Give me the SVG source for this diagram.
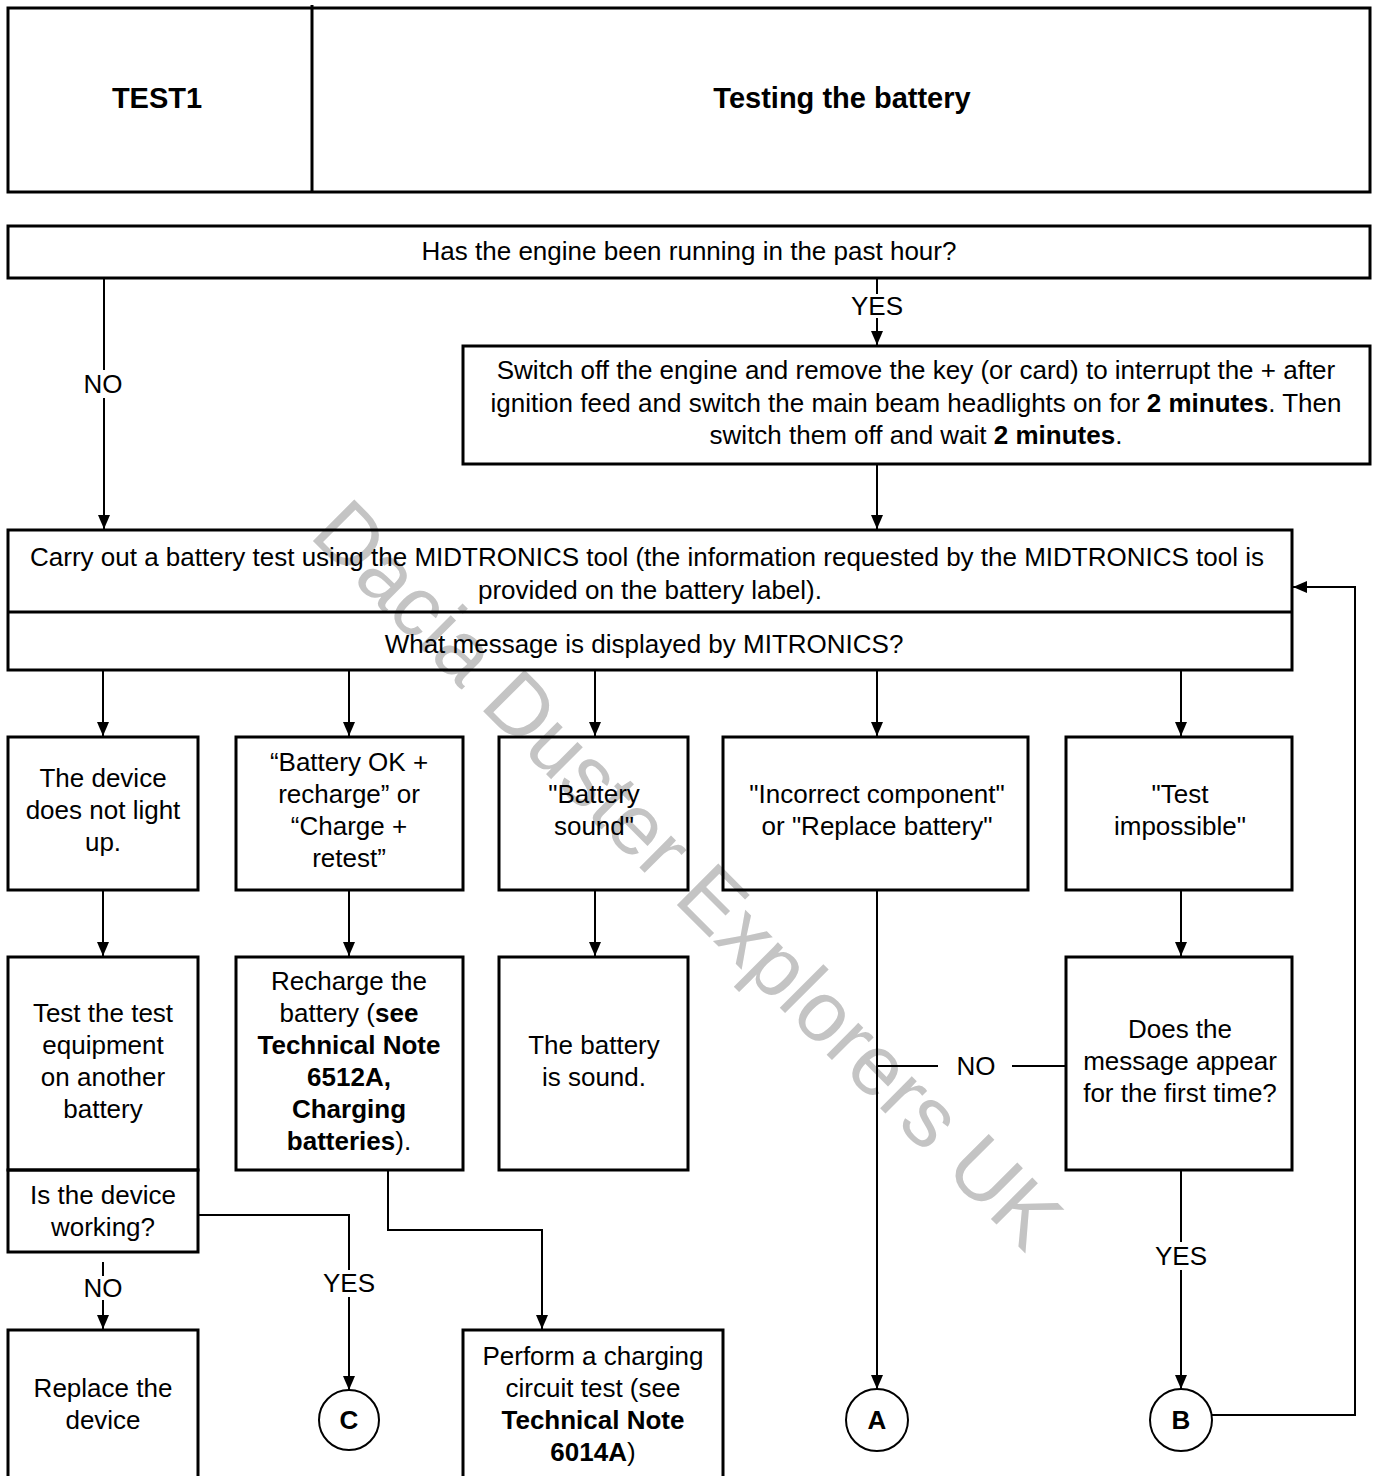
<svg xmlns="http://www.w3.org/2000/svg" width="1375" height="1476" viewBox="0 0 1375 1476">
<defs>
<marker id="ah" markerUnits="userSpaceOnUse" markerWidth="14" markerHeight="14" refX="14" refY="6" orient="auto">
<path d="M0,0 L14,6 L0,12 z" fill="#000"/>
</marker>
<style>
.box{fill:none;stroke:#000;stroke-width:3}
.ln{fill:none;stroke:#000;stroke-width:2}
.arr{fill:none;stroke:#000;stroke-width:2;marker-end:url(#ah)}
text{font-family:"Liberation Sans",Arial,sans-serif;font-size:26px;fill:#000;text-anchor:middle}
.b{font-weight:bold}
.h{font-weight:bold;font-size:29px}
.wm{font-size:85px;fill:#c4c4c4;text-anchor:start}
</style>
</defs>
<rect width="1375" height="1476" fill="#fff"/>
<text class="wm" transform="translate(308,536) rotate(45)">Dacia Duster Explorers UK</text>

<g id="header">
<rect class="box" x="8" y="8" width="1362" height="184"/>
<line class="box" x1="312" y1="5" x2="312" y2="192"/>
<text class="h" x="157" y="108">TEST1</text>
<text class="h" x="842" y="108">Testing the battery</text>
</g>

<g id="q1">
<rect class="box" x="8" y="226" width="1362" height="52"/>
<text x="689" y="260">Has the engine been running in the past hour?</text>
</g>

<g id="switchoff">
<rect class="box" x="463" y="346" width="907" height="118"/>
<text x="916" y="379">Switch off the engine and remove the key (or card) to interrupt the + after</text>
<text x="916" y="412">ignition feed and switch the main beam headlights on for <tspan class="b">2 minutes</tspan>. Then</text>
<text x="916" y="444">switch them off and wait <tspan class="b">2 minutes</tspan>.</text>
</g>

<g id="midtronics">
<rect class="box" x="8" y="530" width="1284" height="140"/>
<line class="box" x1="8" y1="612" x2="1292" y2="612"/>
<text x="647" y="566">Carry out a battery test using the MIDTRONICS tool (the information requested by the MIDTRONICS tool is</text>
<text x="650" y="599">provided on the battery label).</text>
<text x="644" y="653">What message is displayed by MITRONICS?</text>
</g>

<g id="nolight">
<rect class="box" x="8" y="737" width="190" height="153"/>
<text x="103" y="787">The device</text>
<text x="103" y="819">does not light</text>
<text x="103" y="851">up.</text>
</g>

<g id="batteryok">
<rect class="box" x="236" y="737" width="227" height="153"/>
<text x="349" y="771">“Battery OK +</text>
<text x="349" y="803">recharge” or</text>
<text x="349" y="835">“Charge +</text>
<text x="349" y="867">retest”</text>
</g>

<g id="batterysound">
<rect class="box" x="499" y="737" width="189" height="153"/>
<text x="594" y="803">"Battery</text>
<text x="594" y="835">sound"</text>
</g>

<g id="incorrect">
<rect class="box" x="723" y="737" width="305" height="153"/>
<text x="877" y="803">"Incorrect component"</text>
<text x="877" y="835">or "Replace battery"</text>
</g>

<g id="impossible">
<rect class="box" x="1066" y="737" width="226" height="153"/>
<text x="1180" y="803">"Test</text>
<text x="1180" y="835">impossible"</text>
</g>

<g id="testequip">
<rect class="box" x="8" y="957" width="190" height="213"/>
<text x="103" y="1022">Test the test</text>
<text x="103" y="1054">equipment</text>
<text x="103" y="1086">on another</text>
<text x="103" y="1118">battery</text>
</g>

<g id="working">
<rect class="box" x="8" y="1170" width="190" height="82"/>
<text x="103" y="1204">Is the device</text>
<text x="103" y="1236">working?</text>
</g>

<g id="recharge">
<rect class="box" x="236" y="957" width="227" height="213"/>
<text x="349" y="990">Recharge the</text>
<text x="349" y="1022">battery (<tspan class="b">see</tspan></text>
<text x="349" y="1054" class="b">Technical Note</text>
<text x="349" y="1086" class="b">6512A,</text>
<text x="349" y="1118" class="b">Charging</text>
<text x="349" y="1150"><tspan class="b">batteries</tspan>).</text>
</g>

<g id="sound">
<rect class="box" x="499" y="957" width="189" height="213"/>
<text x="594" y="1054">The battery</text>
<text x="594" y="1086">is sound.</text>
</g>

<g id="firsttime">
<rect class="box" x="1066" y="957" width="226" height="213"/>
<text x="1180" y="1038">Does the</text>
<text x="1180" y="1070">message appear</text>
<text x="1180" y="1102">for the first time?</text>
</g>

<g id="replace">
<path class="box" d="M8,1480 V1330 H198 V1480"/>
<text x="103" y="1397">Replace the</text>
<text x="103" y="1429">device</text>
</g>

<g id="charging">
<path class="box" d="M463,1480 V1330 H723 V1480"/>
<text x="593" y="1365">Perform a charging</text>
<text x="593" y="1397">circuit test (see</text>
<text x="593" y="1429" class="b">Technical Note</text>
<text x="593" y="1461"><tspan class="b">6014A</tspan>)</text>
</g>

<g id="circC">
<circle class="ln" cx="349" cy="1420" r="30"/>
<text class="b" x="349" y="1429">C</text>
</g>
<g id="circA">
<circle class="ln" cx="877" cy="1420" r="31"/>
<text class="b" x="877" y="1429">A</text>
</g>
<g id="circB">
<circle class="ln" cx="1181" cy="1420" r="31"/>
<text class="b" x="1181" y="1429">B</text>
</g>

<g id="connectors">
<line class="ln" x1="104" y1="278" x2="104" y2="370"/>
<line class="arr" x1="104" y1="398" x2="104" y2="529"/>
<text x="103" y="393">NO</text>

<line class="ln" x1="877" y1="278" x2="877" y2="294"/>
<text x="877" y="315">YES</text>
<line class="arr" x1="877" y1="318" x2="877" y2="345"/>

<line class="arr" x1="877" y1="464" x2="877" y2="529"/>

<line class="arr" x1="103" y1="670" x2="103" y2="736"/>
<line class="arr" x1="349" y1="670" x2="349" y2="736"/>
<line class="arr" x1="595" y1="670" x2="595" y2="736"/>
<line class="arr" x1="877" y1="670" x2="877" y2="736"/>
<line class="arr" x1="1181" y1="670" x2="1181" y2="736"/>

<line class="arr" x1="103" y1="890" x2="103" y2="956"/>
<line class="arr" x1="349" y1="890" x2="349" y2="956"/>
<line class="arr" x1="595" y1="890" x2="595" y2="956"/>
<line class="arr" x1="1181" y1="890" x2="1181" y2="956"/>

<line class="arr" x1="877" y1="890" x2="877" y2="1389"/>

<line class="ln" x1="1066" y1="1066" x2="1012" y2="1066"/>
<text x="976" y="1075">NO</text>
<line class="ln" x1="938" y1="1066" x2="877" y2="1066"/>

<line class="ln" x1="1181" y1="1170" x2="1181" y2="1242"/>
<text x="1181" y="1265">YES</text>
<line class="arr" x1="1181" y1="1270" x2="1181" y2="1389"/>

<path class="arr" d="M1212,1415 H1355 V587 H1293"/>

<path class="ln" d="M198,1215 H349 V1270"/>
<text x="349" y="1292">YES</text>
<line class="arr" x1="349" y1="1297" x2="349" y2="1390"/>

<line class="ln" x1="103" y1="1262" x2="103" y2="1276"/>
<text x="103" y="1297">NO</text>
<line class="arr" x1="103" y1="1300" x2="103" y2="1329"/>

<path class="arr" d="M388,1170 V1230 H542 V1329"/>
</g>
</svg>
